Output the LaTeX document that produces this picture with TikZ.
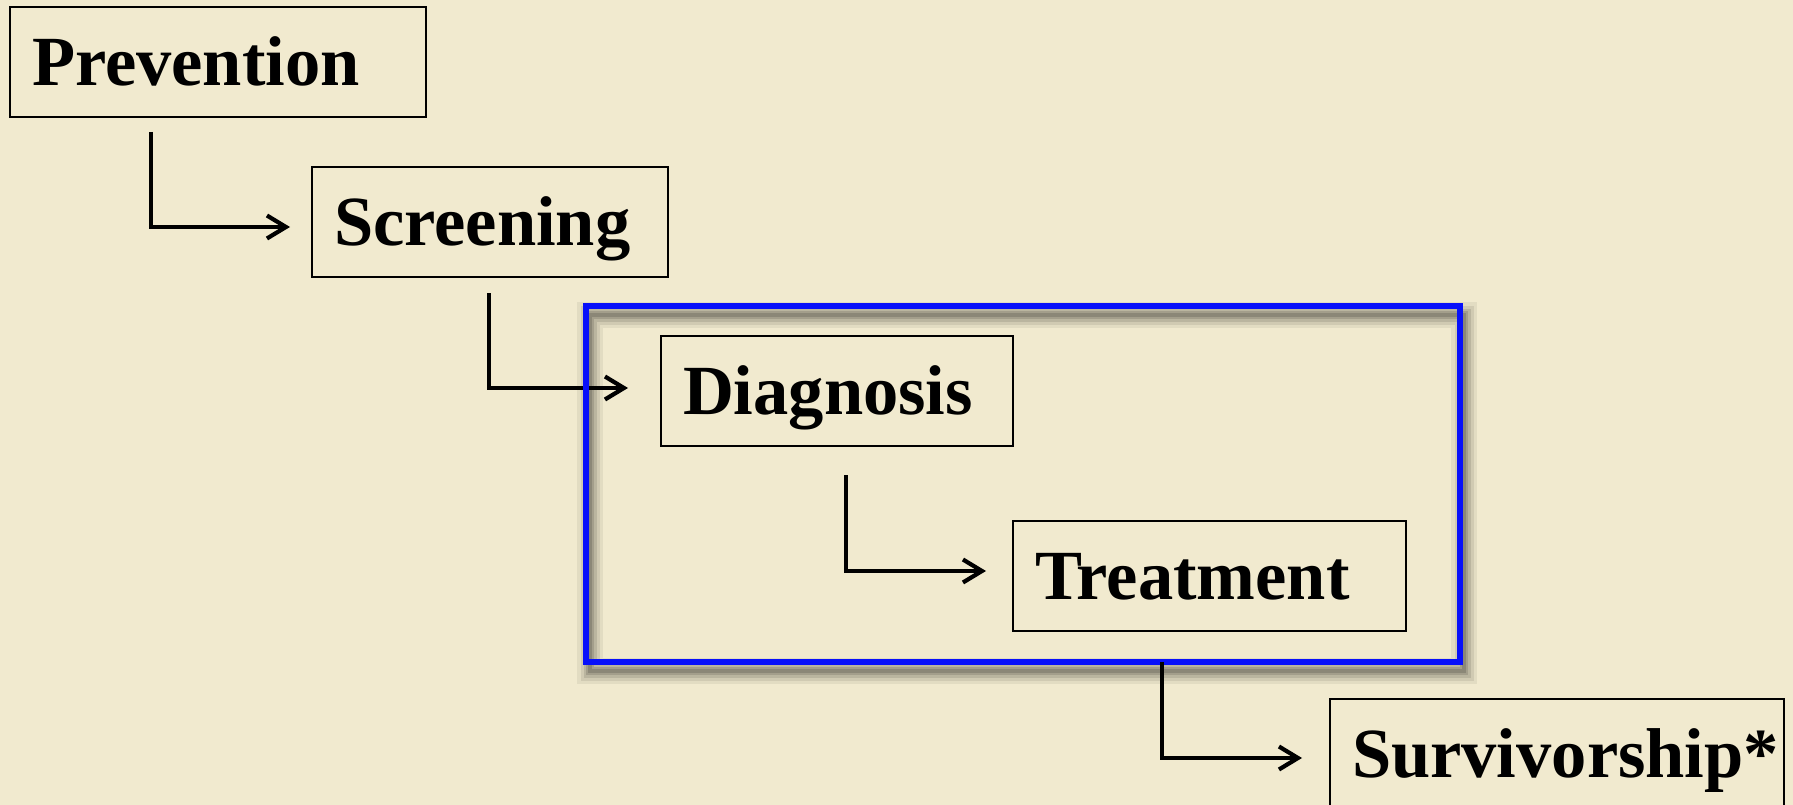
\documentclass[tikz,border=0pt]{standalone}
\usepackage{fontspec}
\setmainfont{Liberation Serif}
\usetikzlibrary{arrows.meta,calc}
\definecolor{paper}{RGB}{241,234,207}
\definecolor{frameblue}{RGB}{8,16,250}
\begin{document}
\begin{tikzpicture}[x=1pt,y=1pt,
  stage/.style={draw=black, line width=2.7pt, anchor=north west, outer sep=0pt,
    inner xsep=22pt, inner ysep=0pt, minimum height=110pt,
    text height=47pt, text depth=0pt, align=left,
    font=\fontsize{70.5}{84}\selectfont\bfseries},
  flow/.style={line width=4.4pt, -{Straight Barb[length=19pt,width=23pt,line width=4.2pt]}},
  frame/.style={draw=frameblue, line width=6pt, anchor=north west, outer sep=0pt, inner sep=0pt}
]
\useasboundingbox (0,0) rectangle (1793,-805);
\clip (0,0) rectangle (1793,-805);
\fill[paper] (0,0) rectangle (1793,-805);

% drop shadow of the blue frame
\foreach \w/\o in {26/0.06,19/0.08,13/0.10,8/0.12,4/0.14}
  \draw[black, opacity=\o, line width=\w pt] (590,-315) rectangle (1464,-671);

% stages
\node[stage, text width=372pt] (prev)  at (10,-7)    {Prevention};
\node[stage, text width=312pt] (scr)   at (312,-167) {Screening};
\node[stage, text width=308pt] (diag)  at (661,-336) {Diagnosis};
\node[stage, text width=349pt] (treat) at (1013,-521) {Treatment};
\node[stage, text width=410pt] (surv)  at (1330,-699) {Survivorship*};

% connectors
\draw[flow] ([xshift=141pt,yshift=-15pt]prev.south west) |- ([xshift=-22pt,yshift=-5pt]scr.west);
\draw[flow] ([xshift=177pt,yshift=-16pt]scr.south west) |- ([xshift=-33pt,yshift=3pt]diag.west);
\draw[flow] ([xshift=185pt,yshift=-29pt]diag.south west) |- ([xshift=-27pt,yshift=5pt]treat.west);

% blue frame
\node[frame, minimum width=874pt, minimum height=356pt] (fr) at (586,-306) {};

\draw[flow] ([xshift=576pt]fr.south west) |- ([xshift=-28pt,yshift=-4pt]surv.west);
\end{tikzpicture}
\end{document}
